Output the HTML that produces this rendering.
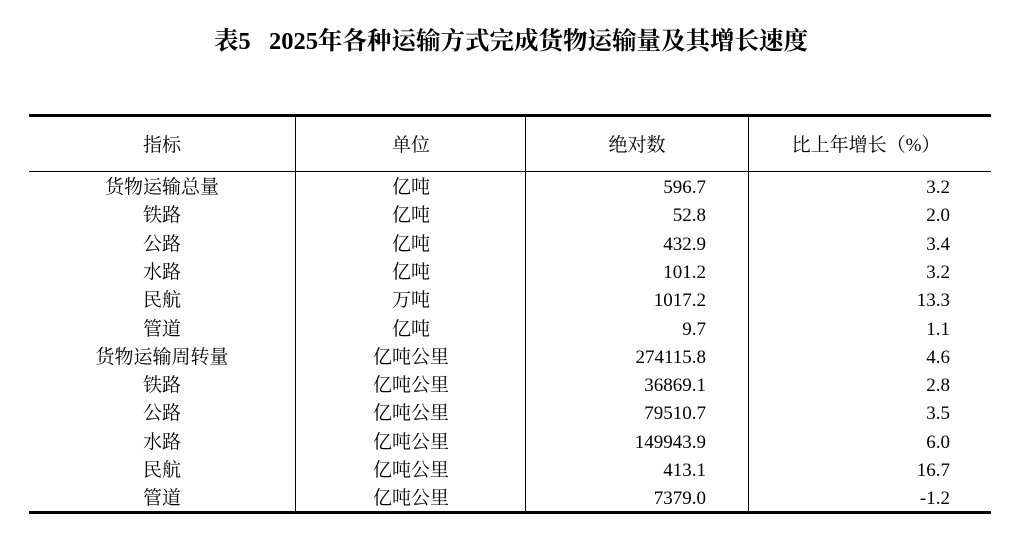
<!DOCTYPE html>
<html><head><meta charset="utf-8"><style>
body{margin:0;width:1022px;height:537px;background:#fff;position:relative;overflow:hidden;font-family:"Liberation Serif","Noto Serif CJK SC",serif;color:#000}
.t{position:absolute;font-size:19px;line-height:20px;white-space:nowrap}
.c{transform:translateX(-50%)}
.r{transform:translateX(-100%)}
.h{position:absolute;background:#000}
</style></head><body>
<div class="t c" style="left:511px;top:29px;font-size:24.5px;line-height:26px;font-weight:bold">表5&nbsp;&nbsp;&nbsp;2025年各种运输方式完成货物运输量及其增长速度</div>
<div class="h" style="left:29px;top:114px;width:962px;height:3px"></div>
<div class="h" style="left:29px;top:171px;width:962px;height:1px"></div>
<div class="h" style="left:29px;top:511px;width:962px;height:3px"></div>
<div class="h" style="left:295px;top:116px;width:1px;height:396px"></div>
<div class="h" style="left:525px;top:116px;width:1px;height:396px"></div>
<div class="h" style="left:748px;top:116px;width:1px;height:396px"></div>
<div class="t c" style="left:162px;top:136px">指标</div>
<div class="t c" style="left:411px;top:136px">单位</div>
<div class="t c" style="left:637px;top:136px">绝对数</div>
<div class="t c" style="left:866px;top:136px">比上年增长（%）</div>
<div id="rows"></div>
<script>
var d=[["货物运输总量","亿吨","596.7","3.2"],["铁路","亿吨","52.8","2.0"],["公路","亿吨","432.9","3.4"],["水路","亿吨","101.2","3.2"],["民航","万吨","1017.2","13.3"],["管道","亿吨","9.7","1.1"],["货物运输周转量","亿吨公里","274115.8","4.6"],["铁路","亿吨公里","36869.1","2.8"],["公路","亿吨公里","79510.7","3.5"],["水路","亿吨公里","149943.9","6.0"],["民航","亿吨公里","413.1","16.7"],["管道","亿吨公里","7379.0","-1.2"]];
var h="";d.forEach(function(r,i){var y=178+i*28.3;
h+='<div class="t c" style="left:162px;top:'+y+'px">'+r[0]+'</div><div class="t c" style="left:411px;top:'+y+'px">'+r[1]+'</div><div class="t r" style="left:706px;top:'+y+'px">'+r[2]+'</div><div class="t r" style="left:950px;top:'+y+'px">'+r[3]+'</div>';});
document.getElementById("rows").innerHTML=h;
</script>
</body></html>
